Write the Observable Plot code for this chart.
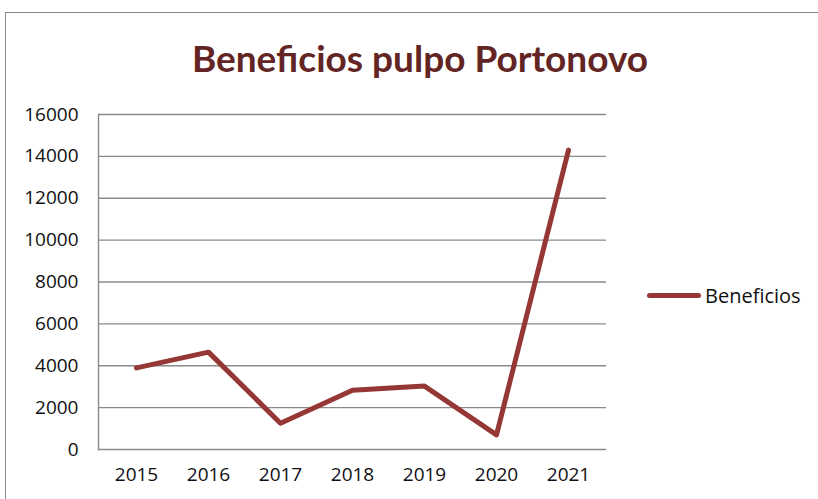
<!DOCTYPE html>
<html>
<head>
<meta charset="utf-8">
<script src="https://cdn.jsdelivr.net/npm/d3@7"></script>
<script src="https://cdn.jsdelivr.net/npm/@observablehq/plot@0.6"></script>
<style>
  html, body { margin: 0; padding: 0; background: #fff; }
  #wrap { position: relative; width: 818px; height: 499px; overflow: hidden; font-family: "Open Sans", sans-serif; }
  #border { position: absolute; left: 5px; top: 12px; width: 900px; height: 600px; border: 1.5px solid #8a8a8a; box-sizing: border-box; }
  #title { position: absolute; left: 0; width: 840px; top: 35px; text-align: center; font-family: Lato, sans-serif; font-weight: 700; font-size: 37px; color: #632523; }
  #chart { position: absolute; left: 0; top: 0; }
  #legend { position: absolute; left: 647px; top: 282px; display: flex; align-items: center; font-size: 20px; color: #111; }
  #legend .sw { width: 54px; height: 5px; border-radius: 3px; background: #953735; margin-right: 4px; }
</style>
</head>
<body>
<div id="wrap">
  <div id="border"></div>
  <div id="chart"></div>
  <div id="title">Beneficios pulpo Portonovo</div>
  <div id="legend"><div class="sw"></div><span>Beneficios</span></div>
</div>
<script>
const years = ["2015", "2016", "2017", "2018", "2019", "2020", "2021"];
const beneficios = [3900, 4650, 1250, 2830, 3030, 700, 14300];
const yTicks = [0, 2000, 4000, 6000, 8000, 10000, 12000, 14000, 16000];

const data = years.map((y, i) => ({year: y, value: beneficios[i]}));

const chart = Plot.plot({
  width: 818,
  height: 499,
  marginLeft: 98,
  marginRight: 212,
  marginTop: 114,
  marginBottom: 50,
  style: {fontFamily: "Open Sans, sans-serif", fontSize: "19px", color: "#111", background: "transparent"},
  x: {type: "point", domain: years, padding: 0.5},
  y: {domain: [0, 16000]},
  marks: [
    Plot.ruleY(yTicks, {stroke: "#8a8a8a", strokeWidth: 1.4}),
    Plot.frame({anchor: "left", stroke: "#8a8a8a", strokeWidth: 1.4}),
    Plot.axisY({ticks: yTicks, tickSize: 0, tickPadding: 20, tickFormat: d => String(d), label: null}),
    Plot.axisX({tickSize: 0, tickPadding: 18, label: null}),
    Plot.line(data, {x: "year", y: "value", stroke: "#953735", strokeWidth: 5, strokeLinejoin: "round", strokeLinecap: "round"})
  ]
});
document.getElementById("chart").appendChild(chart);
</script>
</body>
</html>
